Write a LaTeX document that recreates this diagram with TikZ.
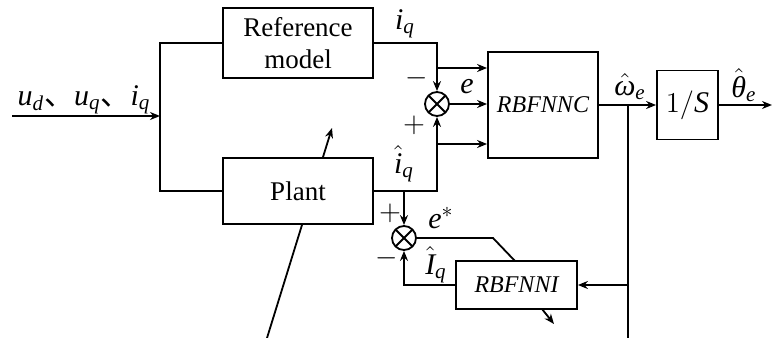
\documentclass[tikz,border=0pt]{standalone}
\usepackage{amsmath}
\usepackage{fontspec}
\setmainfont{Liberation Serif}
\newfontfamily\cjk{Noto Sans CJK SC}
\usepackage{tikz}
\usetikzlibrary{positioning, arrows.meta}
\newcommand{\vi}[1]{\textit{#1}}
\tikzset{
  block/.style={draw, rectangle, fill=white, line width=0.9pt, inner sep=2pt},
  sumnode/.style={draw, circle, fill=white, line width=0.9pt, minimum size=12pt, inner sep=0pt,
    path picture={\draw[line width=0.9pt]
      (path picture bounding box.north west) -- (path picture bounding box.south east)
      (path picture bounding box.south west) -- (path picture bounding box.north east);}},
  sig/.style={line width=0.9pt, -{Stealth[length=5pt, width=4pt]}},
  wire/.style={line width=0.9pt},
  nnlabel/.style={font=\fontsize{12}{14}\selectfont\itshape},
  lbl/.style={inner sep=1pt, font=\fontsize{15}{17}\selectfont}
}
\begin{document}
\begin{tikzpicture}[x=0.5pt, y=-0.5pt, font=\fontsize{13.5}{16}\selectfont]
  \useasboundingbox (0,0) rectangle (773,338);
  % Adaptation arrow through the plant
  \coordinate (pa) at (267,338);
  \coordinate (pb) at (332,128);
  \draw[sig] (pa) -- (pb);
  % Blocks
  \node[block, minimum width=75pt, minimum height=35pt, align=center] (refm) at (298,43) {Reference\\model};
  \node[block, minimum width=75pt, minimum height=33pt] (plant) at (298,191) {Plant};
  \node[sumnode] (sumc) at (437,104) {};
  \node[block, nnlabel, minimum width=55pt, minimum height=53pt] (nnc) at (543,105) {RBFNNC};
  \node[block, minimum width=30.5pt, minimum height=34.5pt, font=\fontsize{15}{17}\selectfont] (integ) at (687.5,105) {$1/\vi{S}$};
  \node[sumnode] (sumi) at (404,238) {};
  \node[block, nnlabel, minimum width=60.5pt, minimum height=24pt] (nni) at (516.5,285) {RBFNNI};
  % Helper points
  \coordinate (inl) at (12,116);
  \coordinate (fork) at (160,116);
  \coordinate (tapr) at (437,68);
  \coordinate (tapp) at (437,144);
  \coordinate (omj) at (628,105);
  \coordinate (omn) at (628,285);
  \coordinate (omb) at (628,338);
  \coordinate (thout) at (772,105);
  \coordinate (tapi) at (404,191);
  \coordinate (ebend) at (493,238);
  \coordinate (ein) at (515,261);
  \coordinate (na) at (542,309);
  \coordinate (nb) at (554,324);
  % Input and fork
  \draw[sig] (inl) -- (fork);
  \draw[wire] (refm.west) -| (fork) |- (plant.west);
  % Error towards RBFNNC
  \draw[sig] (refm.east) -| (sumc.north);
  \draw[sig] (plant.east) -| (sumc.south);
  \draw[sig] (tapr) -- (tapr -| nnc.west);
  \draw[sig] (sumc.east) -- (sumc.east -| nnc.west);
  \draw[sig] (tapp) -- (tapp -| nnc.west);
  % Output path
  \draw[sig] (nnc.east) -- (integ.west);
  \draw[sig] (integ.east) -- (thout);
  \draw[wire] (omj) -- (omb);
  \draw[sig] (omn) -- (nni.east);
  % Identifier loop
  \draw[sig] (tapi) -- (sumi.north);
  \draw[sig] (nni.west) -| (sumi.south);
  \draw[wire] (sumi.east) -- (ebend) -- (ein);
  \draw[sig] (na) -- (nb);
  % Labels
  \node[lbl] (lin) at (84,100) {$\vi{u}_{\vi{d}}${\cjk 、}$\vi{u}_{\vi{q}}${\cjk 、}$\vi{i}_{\vi{q}}$};
  \node[lbl] (liq) at (405,24) {$\vi{i}_{\vi{q}}$};
  \node[lbl] (lm1) at (417,78) {$-$};
  \node[lbl] (le) at (467,87) {$\vi{e}$};
  \node[lbl] (lp1) at (414,125) {$+$};
  \node[lbl] (lhiq) at (404,164) {$\hat{\vi{i}}_{\vi{q}}$};
  \node[lbl] (lp2) at (390,213) {$+$};
  \node[lbl] (les) at (441,218) {$\vi{e}^{*}$};
  \node[lbl] (lm2) at (387,258) {$-$};
  \node[lbl] (lhIq) at (436,265) {$\hat{\vi{I}}_{\vi{q}}$};
  \node[lbl] (lom) at (630,87) {$\hat{\vi{ω}}_{\vi{e}}$};
  \node[lbl] (lth) at (744,85) {$\hat{\vi{θ}}_{\vi{e}}$};
\end{tikzpicture}
\end{document}
